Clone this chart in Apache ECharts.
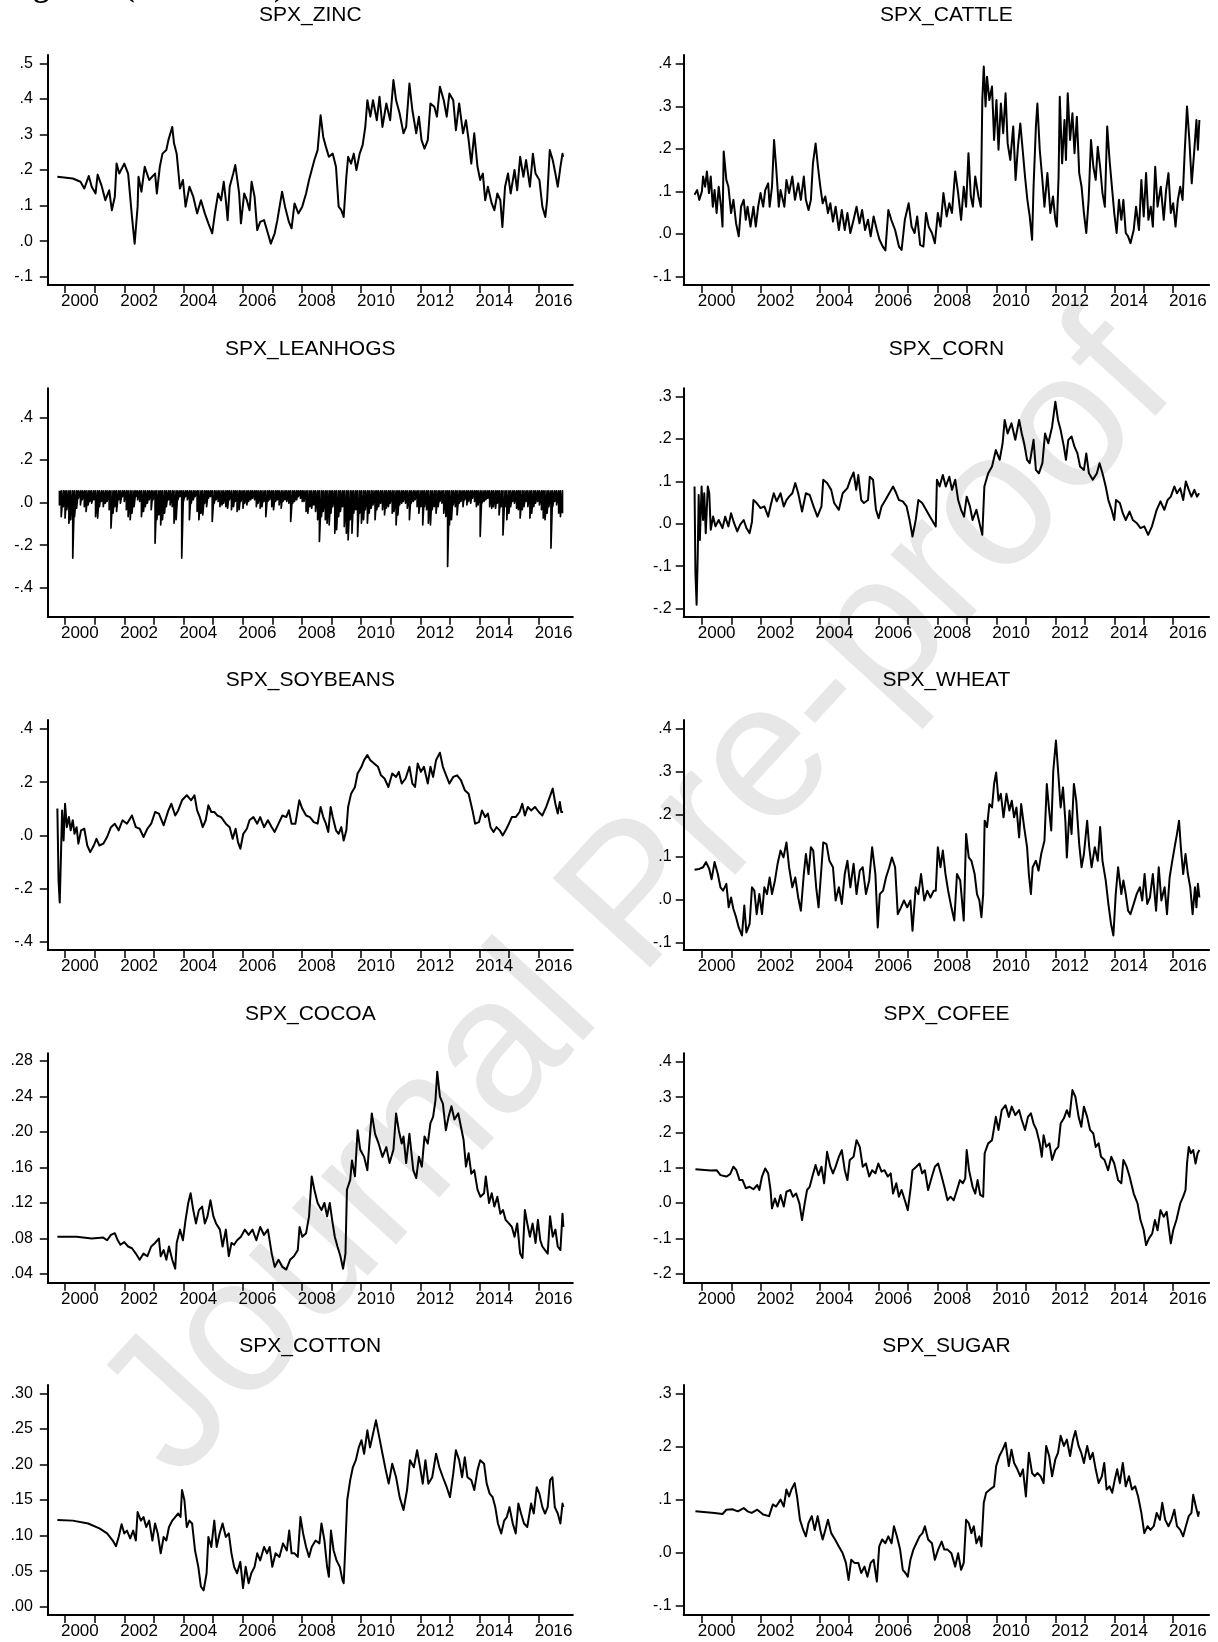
<!DOCTYPE html>
<html>
<head>
<meta charset="utf-8">
<script src="https://cdn.jsdelivr.net/npm/echarts@6/dist/echarts.min.js"></script>
<style>
html,body{margin:0;padding:0;background:#fff;}
#chart{width:1218px;height:1642px;}
</style>
</head>
<body>
<div id="chart"></div>
<script>
// ---------------- DATA ----------------
const tickYears = [2000,2001,2002,2003,2004,2005,2006,2007,2008,2009,2010,2011,2012,2013,2014,2015,2016];
const labelYears = [2000,2002,2004,2006,2008,2010,2012,2014,2016];
const titles = ['SPX_ZINC','SPX_CATTLE','SPX_LEANHOGS','SPX_CORN','SPX_SOYBEANS','SPX_WHEAT','SPX_COCOA','SPX_COFEE','SPX_COTTON','SPX_SUGAR'];
const captionText = 'Figure 4 (Continued).';
const watermarkText = 'Journal Pre-proof';

const zincTicks = [-0.1,0,0.1,0.2,0.3,0.4,0.5];
const cattleTicks = [-0.1,0,0.1,0.2,0.3,0.4];
const leanhogsTicks = [-0.4,-0.2,0,0.2,0.4];
const cornTicks = [-0.2,-0.1,0,0.1,0.2,0.3];
const soybeansTicks = [-0.4,-0.2,0,0.2,0.4];
const wheatTicks = [-0.1,0,0.1,0.2,0.3,0.4];
const cocoaTicks = [0.04,0.08,0.12,0.16,0.20,0.24,0.28];
const coffeeTicks = [-0.2,-0.1,0,0.1,0.2,0.3,0.4];
const cottonTicks = [0,0.05,0.10,0.15,0.20,0.25,0.30];
const sugarTicks = [-0.1,0,0.1,0.2,0.3];

const zinc = [[1999.74,.181],[2000.26,.176],[2000.52,.167],[2000.65,.148],[2000.80,.183],[2000.90,.153],[2001.03,.134],[2001.10,.187],[2001.23,.157],[2001.36,.115],[2001.49,.143],[2001.58,.087],[2001.68,.125],[2001.74,.218],[2001.83,.19],[2002.00,.218],[2002.13,.19],[2002.26,.068],[2002.35,-.007],[2002.45,.097],[2002.48,.181],[2002.58,.139],[2002.69,.209],[2002.84,.172],[2003.04,.19],[2003.10,.134],[2003.20,.209],[2003.29,.246],[2003.42,.256],[2003.49,.284],[2003.62,.321],[2003.68,.275],[2003.77,.246],[2003.88,.148],[2003.98,.172],[2004.07,.097],[2004.20,.153],[2004.33,.125],[2004.46,.078],[2004.59,.115],[2004.72,.078],[2004.84,.05],[2004.97,.022],[2005.06,.078],[2005.17,.134],[2005.27,.115],[2005.36,.167],[2005.43,.115],[2005.49,.059],[2005.56,.153],[2005.68,.19],[2005.75,.214],[2005.88,.134],[2005.94,.05],[2006.05,.134],[2006.14,.115],[2006.23,.087],[2006.30,.167],[2006.40,.125],[2006.49,.031],[2006.59,.054],[2006.72,.059],[2006.85,.022],[2006.95,-.007],[2007.08,.022],[2007.17,.059],[2007.33,.139],[2007.43,.097],[2007.56,.054],[2007.65,.036],[2007.75,.106],[2007.88,.078],[2008.01,.097],[2008.14,.134],[2008.24,.172],[2008.33,.2],[2008.42,.228],[2008.53,.256],[2008.63,.354],[2008.72,.293],[2008.81,.265],[2008.91,.237],[2009.04,.246],[2009.15,.209],[2009.24,.097],[2009.33,.087],[2009.41,.068],[2009.50,.181],[2009.56,.237],[2009.66,.218],[2009.75,.246],[2009.84,.2],[2009.95,.246],[2010.05,.27],[2010.14,.321],[2010.21,.396],[2010.31,.35],[2010.40,.396],[2010.53,.34],[2010.62,.406],[2010.72,.321],[2010.85,.387],[2010.98,.34],[2011.09,.453],[2011.18,.396],[2011.30,.359],[2011.43,.303],[2011.52,.321],[2011.63,.443],[2011.73,.368],[2011.86,.303],[2011.95,.35],[2012.04,.284],[2012.14,.26],[2012.25,.284],[2012.34,.387],[2012.47,.378],[2012.56,.35],[2012.66,.434],[2012.79,.396],[2012.89,.35],[2012.98,.415],[2013.11,.396],[2013.20,.312],[2013.31,.387],[2013.44,.303],[2013.54,.34],[2013.63,.284],[2013.72,.218],[2013.82,.303],[2013.93,.209],[2014.02,.172],[2014.11,.19],[2014.19,.115],[2014.28,.153],[2014.41,.106],[2014.50,.087],[2014.60,.134],[2014.70,.115],[2014.77,.04],[2014.86,.153],[2014.96,.19],[2015.05,.134],[2015.18,.2],[2015.27,.143],[2015.37,.237],[2015.48,.181],[2015.57,.228],[2015.70,.153],[2015.80,.246],[2015.89,.19],[2016.02,.172],[2016.12,.097],[2016.22,.068],[2016.28,.115],[2016.37,.256],[2016.47,.228],[2016.56,.19],[2016.64,.153],[2016.73,.209],[2016.80,.246],[2016.82,.237]];

const cattle = [[1999.75,.092],[1999.84,.103],[1999.91,.080],[2000.00,.100],[2000.04,.135],[2000.11,.111],[2000.17,.147],[2000.24,.096],[2000.30,.135],[2000.37,.064],[2000.43,.103],[2000.50,.049],[2000.57,.111],[2000.65,.064],[2000.70,.017],[2000.74,.194],[2000.83,.127],[2000.90,.111],[2000.99,.049],[2001.07,.080],[2001.16,.025],[2001.25,-.006],[2001.33,.064],[2001.42,.080],[2001.49,.033],[2001.55,.064],[2001.65,.017],[2001.75,.064],[2001.83,.017],[2001.91,.064],[2001.99,.096],[2002.08,.064],[2002.15,.103],[2002.25,.119],[2002.30,.064],[2002.38,.111],[2002.45,.221],[2002.52,.158],[2002.61,.064],[2002.67,.103],[2002.80,.064],[2002.87,.127],[2002.96,.096],[2003.07,.135],[2003.16,.080],[2003.27,.119],[2003.36,.080],[2003.46,.135],[2003.53,.080],[2003.62,.056],[2003.70,.080],[2003.77,.166],[2003.86,.213],[2003.94,.158],[2004.02,.111],[2004.10,.072],[2004.19,.088],[2004.28,.049],[2004.36,.072],[2004.45,.029],[2004.54,.064],[2004.65,.009],[2004.75,.056],[2004.85,.009],[2004.94,.049],[2005.04,.002],[2005.15,.033],[2005.25,.064],[2005.35,.025],[2005.44,.056],[2005.54,.009],[2005.64,.033],[2005.73,-.006],[2005.83,.041],[2005.94,.009],[2006.03,-.014],[2006.14,-.030],[2006.23,-.039],[2006.33,.056],[2006.43,.033],[2006.56,.009],[2006.69,-.030],[2006.78,-.038],[2006.89,.033],[2007.02,.072],[2007.12,.017],[2007.22,.002],[2007.31,.041],[2007.41,-.026],[2007.52,-.030],[2007.61,.049],[2007.70,.017],[2007.81,.002],[2007.91,-.022],[2008.01,.049],[2008.10,.017],[2008.20,.096],[2008.31,.041],[2008.40,.072],[2008.49,.049],[2008.60,.147],[2008.70,.096],[2008.80,.033],[2008.89,.111],[2008.97,.064],[2009.05,.190],[2009.13,.088],[2009.20,.064],[2009.28,.135],[2009.39,.088],[2009.47,.064],[2009.52,.315],[2009.57,.394],[2009.63,.300],[2009.68,.370],[2009.76,.315],[2009.85,.347],[2009.92,.221],[2010.00,.315],[2010.07,.198],[2010.15,.307],[2010.23,.237],[2010.31,.331],[2010.38,.213],[2010.47,.174],[2010.57,.253],[2010.65,.127],[2010.73,.205],[2010.81,.260],[2010.89,.198],[2010.97,.135],[2011.05,.080],[2011.13,.041],[2011.21,-.014],[2011.26,.111],[2011.34,.253],[2011.39,.307],[2011.47,.198],[2011.56,.127],[2011.63,.064],[2011.73,.143],[2011.83,.049],[2011.92,.088],[2012.00,.033],[2012.05,.017],[2012.11,.135],[2012.15,.323],[2012.23,.166],[2012.31,.268],[2012.36,.174],[2012.42,.331],[2012.50,.221],[2012.58,.284],[2012.65,.190],[2012.73,.276],[2012.81,.143],[2012.89,.111],[2012.97,.049],[2013.05,.002],[2013.13,.080],[2013.21,.221],[2013.29,.158],[2013.37,.127],[2013.44,.205],[2013.52,.158],[2013.60,.096],[2013.68,.064],[2013.76,.253],[2013.84,.174],[2013.92,.111],[2014.00,.049],[2014.08,.002],[2014.16,.080],[2014.24,.033],[2014.31,.080],[2014.39,.002],[2014.47,-.006],[2014.55,-.022],[2014.66,.009],[2014.74,.064],[2014.84,.009],[2014.92,.127],[2015.00,.041],[2015.08,.143],[2015.16,.033],[2015.24,.064],[2015.31,.017],[2015.39,.158],[2015.47,.064],[2015.58,.111],[2015.68,.033],[2015.76,.103],[2015.84,.143],[2015.92,.049],[2016.00,.072],[2016.08,.017],[2016.16,.080],[2016.24,.111],[2016.32,.080],[2016.39,.190],[2016.47,.300],[2016.55,.221],[2016.63,.119],[2016.71,.190],[2016.79,.268],[2016.84,.198],[2016.89,.268]];

const leanhogsCap = 0.055;
const leanhogs = [[1999.81,-.011],[1999.87,-.066],[1999.94,-.019],[2000.00,-.073],[2000.06,-.034],[2000.13,-.097],[2000.19,-.081],[2000.26,-.261],[2000.32,-.066],[2000.39,-.027],[2000.45,.020],[2000.52,-.011],[2000.58,.013],[2000.65,-.019],[2000.71,-.042],[2000.78,-.011],[2000.84,.005],[2000.90,-.003],[2000.97,.013],[2001.03,-.066],[2001.10,-.073],[2001.16,-.019],[2001.23,.005],[2001.29,-.019],[2001.36,-.003],[2001.42,.005],[2001.49,-.034],[2001.55,-.120],[2001.62,-.050],[2001.68,-.019],[2001.74,-.042],[2001.81,.013],[2001.87,-.003],[2001.94,.028],[2002.00,.005],[2002.07,-.034],[2002.13,-.066],[2002.20,-.081],[2002.26,-.050],[2002.33,-.019],[2002.39,.028],[2002.45,.013],[2002.52,.005],[2002.58,-.066],[2002.65,-.042],[2002.71,-.019],[2002.78,-.003],[2002.84,.013],[2002.91,-.034],[2002.97,.013],[2003.04,-.191],[2003.10,-.081],[2003.17,-.058],[2003.23,-.105],[2003.29,-.081],[2003.36,-.050],[2003.42,-.019],[2003.49,.013],[2003.55,-.011],[2003.62,-.019],[2003.68,-.097],[2003.75,-.081],[2003.81,.013],[2003.88,.028],[2003.94,-.261],[2004.00,.005],[2004.07,.028],[2004.13,.013],[2004.20,-.081],[2004.26,-.003],[2004.33,.013],[2004.39,.028],[2004.46,-.042],[2004.52,-.081],[2004.59,-.050],[2004.65,-.058],[2004.72,-.003],[2004.78,-.019],[2004.84,.020],[2004.91,.028],[2004.97,-.089],[2005.04,-.003],[2005.10,.013],[2005.17,.005],[2005.23,-.019],[2005.30,-.011],[2005.36,-.003],[2005.43,-.019],[2005.49,-.027],[2005.55,.013],[2005.62,-.034],[2005.69,-.019],[2005.75,.005],[2005.81,-.042],[2005.88,-.034],[2005.94,.005],[2006.01,-.027],[2006.07,-.003],[2006.14,-.011],[2006.20,.005],[2006.27,.013],[2006.33,.020],[2006.40,.013],[2006.46,-.019],[2006.52,-.003],[2006.59,-.027],[2006.65,-.019],[2006.72,.005],[2006.78,-.066],[2006.85,.005],[2006.91,.013],[2006.98,-.019],[2007.04,-.034],[2007.11,.005],[2007.17,.013],[2007.23,-.011],[2007.30,-.027],[2007.36,.005],[2007.43,.013],[2007.49,.005],[2007.56,-.003],[2007.62,-.089],[2007.69,-.003],[2007.75,.005],[2007.82,.013],[2007.88,.028],[2007.95,.020],[2008.01,.005],[2008.07,.005],[2008.14,-.042],[2008.20,-.050],[2008.27,-.019],[2008.33,-.027],[2008.40,-.011],[2008.46,-.042],[2008.53,-.081],[2008.59,-.183],[2008.66,-.066],[2008.72,-.042],[2008.79,-.081],[2008.85,-.097],[2008.92,-.105],[2008.98,-.050],[2009.04,-.019],[2009.11,-.144],[2009.17,-.128],[2009.24,-.066],[2009.30,-.042],[2009.37,-.019],[2009.43,-.113],[2009.50,-.144],[2009.56,-.175],[2009.63,-.081],[2009.69,-.144],[2009.75,-.050],[2009.82,-.034],[2009.88,-.159],[2009.95,-.050],[2010.01,-.097],[2010.08,-.081],[2010.14,-.034],[2010.21,-.097],[2010.27,-.050],[2010.34,-.027],[2010.40,-.011],[2010.47,-.081],[2010.53,-.034],[2010.59,-.019],[2010.66,-.003],[2010.72,-.034],[2010.79,-.058],[2010.85,-.027],[2010.92,-.019],[2010.98,-.003],[2011.05,-.050],[2011.11,-.042],[2011.18,-.105],[2011.24,-.058],[2011.30,-.011],[2011.37,-.003],[2011.43,.005],[2011.50,-.003],[2011.56,-.027],[2011.63,-.081],[2011.69,-.003],[2011.76,.005],[2011.82,.013],[2011.89,-.019],[2011.95,-.050],[2012.02,-.019],[2012.08,-.105],[2012.14,-.019],[2012.21,-.034],[2012.27,-.097],[2012.34,-.105],[2012.40,-.034],[2012.47,-.019],[2012.53,-.050],[2012.60,-.019],[2012.66,.005],[2012.73,-.003],[2012.79,-.050],[2012.86,-.066],[2012.92,-.300],[2012.98,-.105],[2013.05,-.081],[2013.11,-.011],[2013.18,-.019],[2013.24,-.058],[2013.31,-.003],[2013.37,.005],[2013.44,-.019],[2013.50,.013],[2013.57,-.011],[2013.63,.005],[2013.70,-.003],[2013.76,.020],[2013.83,.005],[2013.89,-.019],[2013.95,-.011],[2014.02,-.159],[2014.08,-.003],[2014.15,.005],[2014.21,.013],[2014.28,.020],[2014.34,-.019],[2014.41,-.027],[2014.47,-.019],[2014.54,-.027],[2014.60,-.003],[2014.66,-.058],[2014.73,-.019],[2014.79,-.152],[2014.86,-.019],[2014.92,-.081],[2014.99,-.050],[2015.05,-.019],[2015.12,.005],[2015.18,-.003],[2015.25,-.027],[2015.31,-.034],[2015.37,-.073],[2015.44,-.034],[2015.50,-.019],[2015.57,.005],[2015.63,-.019],[2015.70,-.073],[2015.76,-.050],[2015.83,-.019],[2015.89,-.003],[2015.96,.005],[2016.02,-.011],[2016.09,-.034],[2016.15,-.073],[2016.21,-.081],[2016.28,-.050],[2016.34,-.019],[2016.41,-.214],[2016.47,-.019],[2016.54,.005],[2016.60,-.011],[2016.67,-.050],[2016.73,-.066],[2016.80,-.050]];

const corn = [[1999.75,.088],[1999.78,-.116],[1999.82,-.191],[1999.86,-.069],[1999.89,.068],[1999.93,-.038],[1999.99,.088],[2000.04,.009],[2000.08,.072],[2000.13,-.022],[2000.20,.088],[2000.25,.072],[2000.30,-.014],[2000.38,.017],[2000.46,-.006],[2000.57,.009],[2000.70,-.010],[2000.79,.017],[2000.90,-.006],[2000.99,.025],[2001.09,.002],[2001.20,-.018],[2001.30,-.002],[2001.42,.009],[2001.51,-.010],[2001.62,-.022],[2001.70,.005],[2001.75,.056],[2001.86,.049],[2001.99,.037],[2002.12,.041],[2002.25,.017],[2002.34,.045],[2002.44,.072],[2002.54,.053],[2002.67,.072],[2002.78,.041],[2002.87,.056],[2002.96,.064],[2003.07,.072],[2003.17,.096],[2003.27,.072],[2003.40,.029],[2003.53,.072],[2003.66,.068],[2003.79,.041],[2003.92,.017],[2004.06,.041],[2004.12,.104],[2004.25,.096],[2004.39,.080],[2004.49,.049],[2004.65,.033],[2004.78,.072],[2004.94,.084],[2005.04,.104],[2005.15,.121],[2005.24,.080],[2005.31,.115],[2005.41,.056],[2005.50,.049],[2005.64,.056],[2005.70,.111],[2005.81,.104],[2005.91,.033],[2006.00,.013],[2006.10,.041],[2006.23,.056],[2006.36,.072],[2006.49,.088],[2006.60,.072],[2006.69,.056],[2006.82,.053],[2006.95,.041],[2007.05,.009],[2007.15,-.030],[2007.26,.009],[2007.35,.056],[2007.48,.049],[2007.61,.033],[2007.74,.017],[2007.87,.002],[2007.94,-.006],[2007.98,.104],[2008.07,.088],[2008.18,.115],[2008.28,.088],[2008.40,.111],[2008.49,.080],[2008.60,.104],[2008.70,.056],[2008.80,.033],[2008.90,.017],[2008.99,.064],[2009.10,.041],[2009.19,.009],[2009.32,.033],[2009.45,-.006],[2009.52,-.026],[2009.59,.088],[2009.72,.119],[2009.85,.135],[2009.98,.174],[2010.11,.151],[2010.21,.190],[2010.28,.245],[2010.38,.213],[2010.51,.237],[2010.64,.198],[2010.77,.245],[2010.86,.213],[2010.94,.190],[2011.04,.151],[2011.13,.143],[2011.26,.198],[2011.34,.127],[2011.44,.119],[2011.56,.143],[2011.65,.213],[2011.76,.190],[2011.89,.229],[2012.00,.288],[2012.09,.245],[2012.18,.221],[2012.29,.182],[2012.36,.151],[2012.44,.198],[2012.55,.206],[2012.65,.182],[2012.75,.166],[2012.84,.135],[2012.97,.127],[2013.05,.166],[2013.14,.119],[2013.27,.104],[2013.41,.119],[2013.50,.143],[2013.60,.119],[2013.71,.088],[2013.80,.056],[2013.91,.033],[2014.00,.009],[2014.06,.056],[2014.19,.049],[2014.29,.025],[2014.39,.009],[2014.52,.029],[2014.63,.009],[2014.76,.002],[2014.89,-.010],[2015.02,-.006],[2015.15,-.026],[2015.28,-.006],[2015.44,.033],[2015.57,.053],[2015.70,.033],[2015.81,.056],[2015.92,.064],[2016.04,.088],[2016.13,.072],[2016.24,.084],[2016.34,.056],[2016.43,.100],[2016.53,.080],[2016.62,.064],[2016.72,.080],[2016.81,.064],[2016.88,.072]];

const soybeans = [[1999.74,.101],[1999.78,-.170],[1999.82,-.252],[1999.86,-.082],[1999.90,.094],[1999.95,-.019],[2000.00,.119],[2000.06,.031],[2000.13,.069],[2000.19,.019],[2000.26,.057],[2000.32,.006],[2000.39,.031],[2000.45,-.031],[2000.54,.019],[2000.65,.025],[2000.75,-.038],[2000.85,-.063],[2000.97,-.038],[2001.06,-.013],[2001.16,-.038],[2001.29,-.031],[2001.42,-.006],[2001.55,.031],[2001.68,.044],[2001.81,.019],[2001.94,.057],[2002.09,.044],[2002.26,.075],[2002.39,.031],[2002.52,.025],[2002.65,-.006],[2002.78,.025],[2002.91,.044],[2003.04,.088],[2003.17,.082],[2003.33,.038],[2003.49,.094],[2003.59,.119],[2003.72,.075],[2003.82,.094],[2003.95,.132],[2004.11,.151],[2004.26,.132],[2004.37,.151],[2004.46,.094],[2004.55,.069],[2004.65,.031],[2004.75,.057],[2004.84,.113],[2004.94,.088],[2005.04,.088],[2005.14,.075],[2005.27,.069],[2005.43,.044],[2005.56,.031],[2005.66,-.013],[2005.76,.025],[2005.84,-.025],[2005.92,-.050],[2006.02,.006],[2006.14,.025],[2006.23,.057],[2006.36,.069],[2006.49,.044],[2006.59,.069],[2006.72,.031],[2006.85,.057],[2006.98,.031],[2007.08,.013],[2007.21,.044],[2007.34,.075],[2007.47,.069],[2007.56,.094],[2007.65,.044],[2007.78,.044],[2007.91,.132],[2008.01,.101],[2008.14,.075],[2008.27,.069],[2008.40,.050],[2008.53,.044],[2008.63,.107],[2008.72,.069],[2008.81,.044],[2008.89,.013],[2008.97,.107],[2009.04,.069],[2009.15,.019],[2009.24,.006],[2009.33,.031],[2009.41,-.019],[2009.50,.019],[2009.56,.107],[2009.66,.157],[2009.79,.182],[2009.88,.233],[2010.01,.258],[2010.10,.283],[2010.21,.302],[2010.31,.283],[2010.44,.270],[2010.57,.258],[2010.67,.226],[2010.79,.214],[2010.92,.182],[2011.05,.233],[2011.18,.220],[2011.27,.239],[2011.37,.195],[2011.50,.214],[2011.63,.258],[2011.73,.195],[2011.82,.182],[2011.91,.270],[2012.02,.239],[2012.12,.258],[2012.25,.195],[2012.34,.258],[2012.43,.220],[2012.53,.283],[2012.66,.311],[2012.76,.258],[2012.89,.220],[2012.98,.195],[2013.11,.220],[2013.24,.226],[2013.37,.208],[2013.50,.170],[2013.63,.157],[2013.76,.094],[2013.85,.044],[2013.98,.050],[2014.08,.094],[2014.19,.069],[2014.28,.082],[2014.37,.031],[2014.47,.013],[2014.57,.031],[2014.68,.019],[2014.78,.000],[2014.88,.019],[2014.99,.044],[2015.09,.069],[2015.22,.069],[2015.35,.088],[2015.44,.119],[2015.53,.075],[2015.63,.107],[2015.74,.094],[2015.87,.107],[2016.00,.088],[2016.12,.075],[2016.25,.107],[2016.41,.157],[2016.47,.176],[2016.56,.119],[2016.64,.082],[2016.71,.126],[2016.76,.088],[2016.82,.088]];

const wheat = [[1999.75,.070],[1999.91,.072],[2000.04,.076],[2000.14,.088],[2000.25,.072],[2000.33,.048],[2000.43,.088],[2000.54,.060],[2000.63,.029],[2000.72,.021],[2000.83,.037],[2000.91,-.018],[2000.99,.005],[2001.07,-.022],[2001.16,-.041],[2001.25,-.065],[2001.36,-.084],[2001.44,-.014],[2001.51,-.077],[2001.62,-.057],[2001.70,.029],[2001.78,.021],[2001.86,-.034],[2001.95,.013],[2002.04,-.034],[2002.12,.029],[2002.21,.013],[2002.30,.052],[2002.38,.013],[2002.48,.045],[2002.57,.084],[2002.67,.115],[2002.77,.099],[2002.87,.134],[2002.96,.076],[2003.07,.029],[2003.17,.052],[2003.27,.005],[2003.36,-.026],[2003.46,.060],[2003.53,.107],[2003.62,.060],[2003.70,.123],[2003.78,.115],[2003.88,.029],[2003.96,-.018],[2004.06,.076],[2004.12,.134],[2004.23,.130],[2004.33,.091],[2004.45,.076],[2004.54,-.002],[2004.65,.029],[2004.75,-.010],[2004.85,.060],[2004.94,.091],[2005.04,.029],[2005.15,.084],[2005.25,.013],[2005.36,.068],[2005.46,.076],[2005.57,.013],[2005.68,.045],[2005.78,.123],[2005.89,.060],[2005.97,-.065],[2006.04,.013],[2006.15,.021],[2006.25,.052],[2006.36,.076],[2006.45,.099],[2006.56,.076],[2006.65,-.034],[2006.76,-.018],[2006.86,-.002],[2006.97,-.018],[2007.08,-.002],[2007.15,-.073],[2007.26,.029],[2007.35,.013],[2007.44,.060],[2007.55,-.002],[2007.65,.021],[2007.76,.005],[2007.87,.021],[2007.94,.021],[2008.01,.123],[2008.10,.076],[2008.18,.115],[2008.27,.060],[2008.36,.021],[2008.47,-.018],[2008.57,-.049],[2008.66,.060],[2008.77,.045],[2008.89,-.049],[2008.97,.154],[2009.06,.099],[2009.15,.091],[2009.26,.060],[2009.34,.013],[2009.42,-.002],[2009.49,-.041],[2009.55,.013],[2009.60,.185],[2009.68,.170],[2009.76,.224],[2009.85,.216],[2009.92,.271],[2009.99,.298],[2010.07,.232],[2010.15,.248],[2010.24,.193],[2010.34,.248],[2010.44,.209],[2010.52,.232],[2010.60,.193],[2010.68,.216],[2010.77,.146],[2010.84,.224],[2010.94,.170],[2011.04,.123],[2011.10,.060],[2011.17,.013],[2011.23,.076],[2011.34,.091],[2011.43,.068],[2011.52,.107],[2011.63,.138],[2011.71,.271],[2011.79,.209],[2011.86,.162],[2011.93,.302],[2012.02,.373],[2012.10,.295],[2012.18,.216],[2012.26,.263],[2012.34,.185],[2012.39,.099],[2012.48,.209],[2012.55,.154],[2012.63,.271],[2012.71,.232],[2012.81,.130],[2012.89,.076],[2012.97,.107],[2013.08,.185],[2013.15,.123],[2013.23,.076],[2013.34,.123],[2013.44,.091],[2013.52,.170],[2013.60,.091],[2013.71,.045],[2013.80,-.010],[2013.89,-.057],[2013.97,-.084],[2014.05,.013],[2014.13,.076],[2014.24,.013],[2014.31,.045],[2014.39,.013],[2014.47,-.026],[2014.55,-.034],[2014.66,-.010],[2014.76,.013],[2014.87,.029],[2014.95,-.002],[2015.03,.060],[2015.12,-.010],[2015.21,.005],[2015.31,.060],[2015.42,-.026],[2015.51,.076],[2015.60,-.002],[2015.71,.029],[2015.79,-.034],[2015.88,.052],[2015.97,.091],[2016.05,.123],[2016.13,.154],[2016.20,.185],[2016.26,.123],[2016.34,.060],[2016.42,.107],[2016.50,.060],[2016.58,.029],[2016.66,-.034],[2016.74,.029],[2016.79,-.018],[2016.84,.037],[2016.89,.005]];

const cocoa = [[1999.74,.082],[2000.39,.082],[2000.90,.080],[2001.29,.081],[2001.42,.078],[2001.55,.084],[2001.68,.086],[2001.78,.078],[2001.87,.073],[2002.00,.076],[2002.13,.071],[2002.26,.069],[2002.39,.063],[2002.52,.056],[2002.65,.063],[2002.78,.060],[2002.91,.071],[2003.04,.075],[2003.17,.080],[2003.23,.060],[2003.33,.067],[2003.42,.056],[2003.51,.071],[2003.62,.056],[2003.72,.046],[2003.77,.075],[2003.88,.090],[2003.98,.078],[2004.07,.101],[2004.16,.120],[2004.24,.131],[2004.33,.112],[2004.42,.097],[2004.52,.112],[2004.63,.116],[2004.72,.097],[2004.81,.105],[2004.91,.123],[2005.01,.105],[2005.10,.097],[2005.23,.090],[2005.32,.071],[2005.43,.090],[2005.53,.060],[2005.62,.075],[2005.71,.073],[2005.81,.078],[2005.94,.082],[2006.07,.090],[2006.20,.084],[2006.33,.090],[2006.46,.078],[2006.59,.093],[2006.72,.084],[2006.85,.090],[2006.98,.063],[2007.08,.048],[2007.21,.056],[2007.34,.048],[2007.47,.045],[2007.60,.056],[2007.73,.060],[2007.86,.067],[2007.92,.093],[2008.01,.082],[2008.14,.086],[2008.24,.105],[2008.33,.150],[2008.42,.135],[2008.53,.120],[2008.66,.112],[2008.76,.120],[2008.85,.105],[2008.94,.120],[2009.02,.101],[2009.11,.082],[2009.20,.071],[2009.30,.060],[2009.39,.046],[2009.47,.063],[2009.52,.135],[2009.63,.146],[2009.69,.168],[2009.79,.150],[2009.88,.202],[2009.97,.180],[2010.10,.172],[2010.21,.157],[2010.31,.202],[2010.36,.221],[2010.47,.198],[2010.59,.187],[2010.72,.172],[2010.85,.183],[2010.96,.165],[2011.09,.180],[2011.18,.221],[2011.27,.202],[2011.37,.187],[2011.43,.195],[2011.52,.165],[2011.63,.198],[2011.76,.157],[2011.86,.148],[2011.95,.172],[2012.05,.161],[2012.14,.195],[2012.25,.187],[2012.34,.210],[2012.43,.217],[2012.51,.236],[2012.57,.268],[2012.66,.240],[2012.76,.232],[2012.86,.202],[2012.95,.217],[2013.05,.229],[2013.15,.214],[2013.28,.221],[2013.37,.206],[2013.46,.191],[2013.54,.161],[2013.63,.176],[2013.72,.153],[2013.82,.157],[2013.93,.135],[2014.03,.127],[2014.15,.131],[2014.21,.150],[2014.32,.120],[2014.41,.131],[2014.50,.116],[2014.60,.127],[2014.70,.108],[2014.79,.112],[2014.88,.101],[2014.99,.097],[2015.09,.093],[2015.18,.082],[2015.27,.097],[2015.37,.063],[2015.45,.058],[2015.53,.112],[2015.61,.097],[2015.70,.082],[2015.79,.097],[2015.89,.075],[2015.97,.101],[2016.05,.078],[2016.12,.071],[2016.21,.067],[2016.30,.063],[2016.38,.105],[2016.47,.082],[2016.56,.090],[2016.64,.071],[2016.73,.067],[2016.80,.108],[2016.83,.093]];

const coffee = [[1999.78,.096],[2000.30,.092],[2000.50,.093],[2000.63,.079],[2000.83,.075],[2000.96,.082],[2001.07,.103],[2001.17,.093],[2001.28,.065],[2001.38,.065],[2001.49,.042],[2001.62,.046],[2001.75,.039],[2001.88,.051],[2001.95,.037],[2002.04,.075],[2002.15,.098],[2002.25,.084],[2002.33,.037],[2002.38,-.015],[2002.48,.013],[2002.57,-.010],[2002.67,.023],[2002.78,-.010],[2002.87,.032],[2003.00,.037],[2003.09,.018],[2003.20,.027],[2003.31,-.001],[2003.40,-.048],[2003.49,-.001],[2003.57,.037],[2003.66,.046],[2003.75,.075],[2003.86,.108],[2003.96,.079],[2004.06,.103],[2004.15,.056],[2004.25,.145],[2004.36,.103],[2004.45,.084],[2004.54,.103],[2004.65,.131],[2004.75,.150],[2004.85,.093],[2004.94,.065],[2005.02,.122],[2005.15,.131],[2005.25,.178],[2005.36,.159],[2005.46,.103],[2005.57,.112],[2005.68,.075],[2005.78,.093],[2005.89,.084],[2005.99,.112],[2006.10,.089],[2006.20,.093],[2006.31,.075],[2006.41,.084],[2006.49,.027],[2006.60,.056],[2006.69,.018],[2006.78,.037],[2006.89,.008],[2006.99,-.020],[2007.08,.037],[2007.15,.093],[2007.28,.103],[2007.39,.112],[2007.48,.084],[2007.57,.093],[2007.68,.037],[2007.81,.075],[2007.91,.103],[2008.02,.112],[2008.14,.075],[2008.23,.046],[2008.34,.008],[2008.44,.018],[2008.55,.008],[2008.66,.037],[2008.76,.065],[2008.86,.056],[2008.94,.070],[2008.99,.150],[2009.07,.093],[2009.19,.046],[2009.28,.027],[2009.36,.065],[2009.45,.023],[2009.55,.018],[2009.60,.141],[2009.72,.169],[2009.85,.178],[2009.98,.244],[2010.07,.207],[2010.18,.263],[2010.31,.277],[2010.42,.244],[2010.52,.273],[2010.64,.249],[2010.77,.263],[2010.86,.235],[2010.97,.207],[2011.07,.244],[2011.17,.254],[2011.26,.225],[2011.36,.207],[2011.47,.169],[2011.54,.131],[2011.60,.192],[2011.69,.159],[2011.80,.169],[2011.89,.122],[2012.00,.150],[2012.10,.159],[2012.18,.225],[2012.29,.240],[2012.39,.263],[2012.48,.244],[2012.58,.320],[2012.68,.301],[2012.79,.244],[2012.88,.216],[2012.97,.273],[2013.08,.244],[2013.18,.207],[2013.29,.197],[2013.37,.159],[2013.47,.169],[2013.55,.131],[2013.67,.122],[2013.79,.093],[2013.90,.131],[2014.00,.112],[2014.13,.065],[2014.24,.056],[2014.31,.122],[2014.42,.103],[2014.52,.075],[2014.66,.027],[2014.79,-.001],[2014.89,-.048],[2015.00,-.077],[2015.08,-.119],[2015.18,-.100],[2015.29,-.086],[2015.38,-.048],[2015.47,-.077],[2015.57,-.020],[2015.68,-.039],[2015.78,-.025],[2015.86,-.077],[2015.92,-.114],[2016.00,-.077],[2016.11,-.048],[2016.24,-.001],[2016.34,.018],[2016.42,.037],[2016.47,.112],[2016.53,.159],[2016.60,.141],[2016.68,.150],[2016.76,.112],[2016.83,.141],[2016.89,.150]];

const cotton = [[1999.74,.122],[2000.26,.121],[2000.78,.117],[2001.16,.110],[2001.42,.103],[2001.61,.093],[2001.72,.085],[2001.81,.098],[2001.91,.116],[2002.00,.103],[2002.09,.107],[2002.20,.096],[2002.30,.107],[2002.39,.093],[2002.45,.133],[2002.56,.121],[2002.65,.126],[2002.74,.112],[2002.84,.121],[2002.95,.093],[2003.04,.117],[2003.13,.103],[2003.23,.075],[2003.33,.098],[2003.42,.093],[2003.51,.112],[2003.62,.121],[2003.72,.126],[2003.82,.131],[2003.90,.126],[2003.95,.164],[2004.03,.150],[2004.11,.112],[2004.20,.121],[2004.29,.117],[2004.39,.079],[2004.50,.056],[2004.59,.028],[2004.68,.023],[2004.78,.047],[2004.84,.098],[2004.94,.084],[2005.04,.121],[2005.12,.084],[2005.22,.103],[2005.32,.117],[2005.43,.098],[2005.53,.103],[2005.62,.075],[2005.71,.056],[2005.81,.047],[2005.92,.063],[2006.01,.026],[2006.10,.056],[2006.20,.033],[2006.29,.047],[2006.40,.056],[2006.49,.075],[2006.59,.065],[2006.72,.084],[2006.82,.075],[2006.91,.084],[2007.00,.056],[2007.11,.075],[2007.24,.070],[2007.36,.089],[2007.49,.079],[2007.57,.107],[2007.65,.075],[2007.75,.075],[2007.86,.070],[2007.95,.126],[2008.04,.103],[2008.14,.084],[2008.24,.070],[2008.33,.084],[2008.46,.093],[2008.59,.089],[2008.66,.117],[2008.76,.093],[2008.85,.056],[2008.91,.042],[2008.98,.107],[2009.07,.079],[2009.17,.065],[2009.28,.056],[2009.37,.037],[2009.41,.033],[2009.46,.079],[2009.53,.150],[2009.63,.178],[2009.72,.196],[2009.82,.206],[2009.92,.224],[2010.01,.234],[2010.10,.215],[2010.21,.248],[2010.30,.224],[2010.40,.243],[2010.50,.262],[2010.59,.243],[2010.72,.215],[2010.83,.192],[2010.93,.173],[2011.05,.201],[2011.18,.182],[2011.30,.154],[2011.43,.136],[2011.55,.164],[2011.65,.206],[2011.78,.196],[2011.89,.220],[2011.99,.196],[2012.08,.173],[2012.17,.206],[2012.27,.173],[2012.40,.182],[2012.53,.215],[2012.64,.196],[2012.76,.182],[2012.89,.168],[2013.00,.154],[2013.11,.187],[2013.20,.220],[2013.31,.206],[2013.41,.182],[2013.50,.210],[2013.59,.182],[2013.72,.178],[2013.82,.164],[2013.93,.192],[2014.02,.206],[2014.15,.201],[2014.24,.173],[2014.34,.159],[2014.44,.154],[2014.53,.140],[2014.62,.117],[2014.73,.103],[2014.83,.121],[2014.92,.126],[2015.01,.140],[2015.12,.117],[2015.22,.103],[2015.31,.145],[2015.40,.131],[2015.50,.117],[2015.61,.112],[2015.74,.145],[2015.83,.131],[2015.93,.168],[2016.02,.159],[2016.12,.140],[2016.21,.131],[2016.30,.140],[2016.38,.178],[2016.46,.182],[2016.54,.140],[2016.64,.131],[2016.73,.117],[2016.80,.145],[2016.83,.140]];

const sugar = [[1999.78,.078],[2000.43,.075],[2000.70,.073],[2000.83,.081],[2001.03,.082],[2001.22,.078],[2001.42,.084],[2001.55,.078],[2001.69,.075],[2001.88,.081],[2002.08,.072],[2002.28,.069],[2002.41,.091],[2002.52,.087],[2002.67,.100],[2002.78,.087],[2002.87,.119],[2002.96,.106],[2003.04,.119],[2003.15,.131],[2003.23,.106],[2003.33,.062],[2003.44,.043],[2003.53,.031],[2003.62,.056],[2003.73,.069],[2003.83,.043],[2003.93,.069],[2004.02,.043],[2004.10,.025],[2004.19,.043],[2004.28,.062],[2004.39,.037],[2004.52,.025],[2004.65,.012],[2004.78,-.001],[2004.89,-.019],[2004.98,-.051],[2005.07,-.013],[2005.18,-.019],[2005.31,-.019],[2005.41,-.038],[2005.52,-.026],[2005.62,-.045],[2005.73,-.019],[2005.83,-.013],[2005.94,-.054],[2006.02,.012],[2006.12,.025],[2006.23,.018],[2006.33,.031],[2006.44,.018],[2006.52,.050],[2006.62,.031],[2006.73,.006],[2006.82,-.032],[2006.91,-.038],[2006.99,-.045],[2007.08,-.013],[2007.18,.006],[2007.28,.018],[2007.39,.031],[2007.49,.037],[2007.57,.050],[2007.68,.025],[2007.81,.018],[2007.91,-.013],[2008.02,.006],[2008.14,.021],[2008.23,.006],[2008.34,.006],[2008.47,-.001],[2008.60,-.026],[2008.70,-.001],[2008.80,-.032],[2008.89,-.019],[2008.97,.062],[2009.06,.056],[2009.15,.037],[2009.23,.050],[2009.32,.018],[2009.42,.031],[2009.49,.012],[2009.57,.094],[2009.65,.113],[2009.78,.119],[2009.92,.125],[2009.99,.163],[2010.10,.182],[2010.21,.194],[2010.31,.207],[2010.42,.163],[2010.51,.194],[2010.60,.169],[2010.71,.157],[2010.81,.144],[2010.90,.157],[2011.00,.106],[2011.10,.188],[2011.21,.150],[2011.30,.144],[2011.39,.150],[2011.50,.144],[2011.60,.131],[2011.69,.201],[2011.79,.182],[2011.89,.144],[2012.00,.176],[2012.09,.188],[2012.18,.220],[2012.29,.201],[2012.39,.213],[2012.50,.182],[2012.60,.213],[2012.68,.229],[2012.79,.201],[2012.88,.188],[2012.97,.169],[2013.08,.201],[2013.18,.176],[2013.27,.188],[2013.37,.157],[2013.47,.131],[2013.58,.144],[2013.66,.169],[2013.74,.119],[2013.84,.125],[2013.93,.113],[2014.02,.138],[2014.10,.157],[2014.19,.131],[2014.29,.169],[2014.39,.125],[2014.50,.144],[2014.60,.119],[2014.71,.125],[2014.81,.106],[2014.92,.075],[2015.02,.037],[2015.13,.050],[2015.23,.043],[2015.34,.050],[2015.44,.075],[2015.55,.062],[2015.63,.094],[2015.73,.062],[2015.84,.050],[2015.94,.062],[2016.04,.081],[2016.13,.050],[2016.24,.043],[2016.34,.031],[2016.43,.050],[2016.53,.069],[2016.62,.075],[2016.68,.109],[2016.77,.087],[2016.85,.069],[2016.88,.078]];

// ---------------- LAYOUT ----------------
const FONT = '"Liberation Sans", Arial, Helvetica, sans-serif';
const cols = [
  {left: 47.8, width: 525.0, xmin: 1999.417, xmax: 2017.148, labelMargin: 15},
  {left: 683.7, width: 525.4, xmin: 1999.382, xmax: 2017.22, labelMargin: 12}
];
const rows = [
  {top: 55, bottom: 285, titleY: 15},
  {top: 388.3, bottom: 616.7, titleY: 349.3},
  {top: 720, bottom: 950, titleY: 680.7},
  {top: 1053.3, bottom: 1282.7, titleY: 1014},
  {top: 1385, bottom: 1615, titleY: 1346}
];

const hogLine = [];
leanhogs.forEach(p => { hogLine.push([p[0], leanhogsCap]); hogLine.push([p[0], p[1]]); });

const panels = [
  {data: zinc, ticks: zincTicks, dec: 1, min: -0.1233, max: 0.5233},
  {data: cattle, ticks: cattleTicks, dec: 1, min: -0.1205, max: 0.4212},
  {data: hogLine, ticks: leanhogsTicks, dec: 1, min: -0.536, max: 0.536, lw: 1.7},
  {data: corn, ticks: cornTicks, dec: 1, min: -0.219, max: 0.3195},
  {data: soybeans, ticks: soybeansTicks, dec: 1, min: -0.431, max: 0.434},
  {data: wheat, ticks: wheatTicks, dec: 1, min: -0.118, max: 0.421},
  {data: cocoa, ticks: cocoaTicks, dec: 2, min: 0.0302, max: 0.2887},
  {data: coffee, ticks: coffeeTicks, dec: 1, min: -0.2255, max: 0.424},
  {data: cotton, ticks: cottonTicks, dec: 2, min: -0.0117, max: 0.3117},
  {data: sugar, ticks: sugarTicks, dec: 1, min: -0.117, max: 0.3156}
];

function fmt(dec) {
  return function (v) {
    const s = (Math.abs(v) < 1e-9 ? 0 : v).toFixed(dec);
    return s.replace(/^(-?)0\./, '$1.');
  };
}

const grid = [], xAxis = [], yAxis = [], series = [], graphic = [];
const lineCol = '#000';

panels.forEach((p, i) => {
  const c = cols[i % 2], r = rows[Math.floor(i / 2)];
  grid.push({left: c.left, top: r.top, width: c.width, height: r.bottom - r.top, containLabel: false});
  xAxis.push({
    gridIndex: i, type: 'value', min: c.xmin, max: c.xmax,
    axisLine: {show: true, onZero: false, lineStyle: {color: lineCol, width: 2}},
    axisTick: {show: true, customValues: tickYears, length: 8, inside: false, lineStyle: {color: lineCol, width: 1.5}},
    axisLabel: {show: true, customValues: labelYears.map(y => y + 0.5), formatter: v => String(Math.floor(v + 1e-6)),
      color: '#000', fontSize: 17, fontFamily: FONT, margin: 8, hideOverlap: false},
    splitLine: {show: false}
  });
  yAxis.push({
    gridIndex: i, type: 'value', min: p.min, max: p.max,
    axisLine: {show: true, onZero: false, lineStyle: {color: lineCol, width: 2}},
    axisTick: {show: true, customValues: p.ticks, length: 8, inside: false, lineStyle: {color: lineCol, width: 1.5}},
    axisLabel: {show: true, customValues: p.ticks, formatter: fmt(p.dec), color: '#000', fontSize: 16, fontFamily: FONT, margin: c.labelMargin},
    splitLine: {show: false}
  });
  series.push({
    type: 'line', xAxisIndex: i, yAxisIndex: i, data: p.data,
    showSymbol: false, symbol: 'none', silent: true, animation: false, clip: true,
    lineStyle: {color: lineCol, width: p.lw || 2, join: 'round'}
  });
  graphic.push({
    type: 'text', x: c.left + c.width / 2, y: r.titleY, z: 100,
    style: {text: titles[i], align: 'center', verticalAlign: 'middle', fill: '#000', fontSize: 21, fontFamily: FONT}
  });
});

// watermark
graphic.push({
  type: 'text', x: 640, y: 900, rotation: 47.5 * Math.PI / 180, z: -10, silent: true,
  style: {text: watermarkText, align: 'center', verticalAlign: 'middle', fill: '#e7e7e7', fontSize: 192, fontFamily: FONT}
});
// clipped caption at top-left
graphic.push({
  type: 'text', x: 6, y: -12, z: 100, silent: true,
  style: {text: captionText, align: 'left', verticalAlign: 'middle', fill: '#000', fontSize: 31, fontWeight: 'bold', fontFamily: '"Liberation Serif", "Times New Roman", serif'}
});

const chart = echarts.init(document.getElementById('chart'), null, {renderer: 'canvas', width: 1218, height: 1642});
chart.setOption({
  animation: false,
  backgroundColor: '#fff',
  grid, xAxis, yAxis, series, graphic
});
</script>
</body>
</html>
